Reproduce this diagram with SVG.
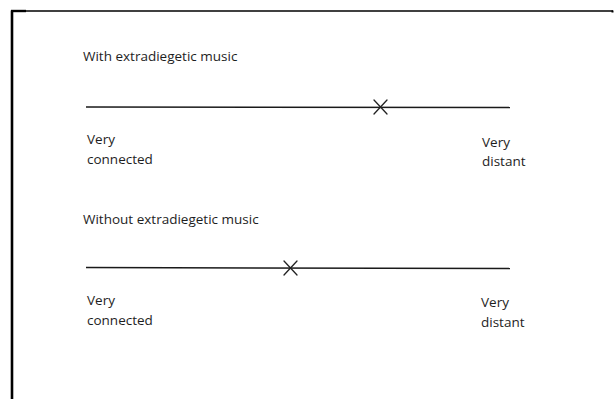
<svg xmlns="http://www.w3.org/2000/svg" width="614" height="399" viewBox="0 0 614 399">
  <style>
    .frame { stroke: #000; fill: none; }
    .scale { stroke: #1a1a1a; stroke-width: 1.5; fill: none; }
    .mark { stroke: #222; stroke-width: 1.3; fill: none; stroke-linecap: round; }
    text { font-family: "Open Sans", "Liberation Sans", sans-serif; font-size: 13.5px; fill: #1e1e1e; }
  </style>
  <rect width="614" height="399" fill="#fff"/>

  <!-- page border (left and top edges) -->
  <g id="border">
    <line class="frame" x1="12" y1="10.5" x2="12" y2="399" stroke-width="2.6"/>
    <line class="frame" x1="11" y1="11" x2="26" y2="11" stroke-width="2.4"/>
    <line class="frame" x1="26" y1="11" x2="613" y2="11" stroke-width="1.5"/>
    <line class="frame" x1="612.5" y1="10.5" x2="612.5" y2="12.5" stroke-width="2"/>
  </g>

  <!-- first scale -->
  <g id="scale-with">
    <text x="83" y="61">With extradiegetic music</text>
    <line class="scale" x1="86" y1="107" x2="510" y2="107.5"/>
    <g id="mark-with">
      <line class="mark" x1="374" y1="100" x2="387" y2="114"/>
      <line class="mark" x1="387" y1="100" x2="374" y2="114"/>
    </g>
    <text x="87" y="144">Very</text>
    <text x="87" y="164">connected</text>
    <text x="482" y="147">Very</text>
    <text x="482" y="166">distant</text>
  </g>

  <!-- second scale -->
  <g id="scale-without">
    <text x="83" y="224">Without extradiegetic music</text>
    <line class="scale" x1="86" y1="267.5" x2="510" y2="268.5"/>
    <g id="mark-without">
      <line class="mark" x1="284" y1="261" x2="297" y2="275"/>
      <line class="mark" x1="297" y1="261" x2="284" y2="275"/>
    </g>
    <text x="87" y="305">Very</text>
    <text x="87" y="325">connected</text>
    <text x="481" y="307">Very</text>
    <text x="481" y="327">distant</text>
  </g>
</svg>
